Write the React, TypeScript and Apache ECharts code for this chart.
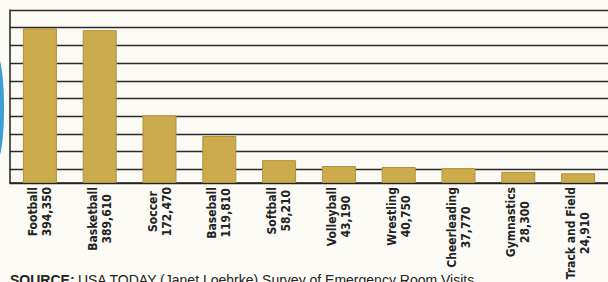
import React, { useEffect, useRef } from "react";
import * as echarts from "echarts";

const sports = [
  "Football",
  "Basketball",
  "Soccer",
  "Baseball",
  "Softball",
  "Volleyball",
  "Wrestling",
  "Cheerleading",
  "Gymnastics",
  "Track and Field",
];
const visits = [394350, 389610, 172470, 119810, 58210, 43190, 40750, 37770, 28300, 24910];
const sourceLabel = "SOURCE:";
const sourceText = "USA TODAY (Janet Loehrke) Survey of Emergency Room Visits";

const fmt = (v: number) => v.toLocaleString("en-US");

export default function App() {
  const ref = useRef<HTMLDivElement>(null);
  useEffect(() => {
    if (!ref.current) return;
    const chart = echarts.init(ref.current, null, { renderer: "svg" });
    const labelFont = "'DejaVu Sans Condensed', 'Liberation Sans', sans-serif";
    chart.setOption({
      animation: false,
      backgroundColor: "#fbfaf5",
      grid: {
        left: 10,
        right: 0,
        top: 10,
        bottom: 99,
        containLabel: false,
        outerBoundsMode: "none",
      },
      xAxis: {
        type: "category",
        data: sports,
        axisTick: { show: false },
        axisLine: { show: true, lineStyle: { color: "#222", width: 1.5 } },
        axisLabel: {
          interval: 0,
          rotate: 90,
          margin: 4,
          formatter: (name: string, idx: number) => `{a|${name}}\n{a|${fmt(visits[idx])}}`,
          rich: {
            a: {
              align: "center",
              fontFamily: labelFont,
              fontSize: 12,
              fontWeight: "bold",
              lineHeight: 14,
              color: "#222",
            },
          },
        },
      },
      yAxis: [
        {
          type: "value",
          min: 0,
          max: 441000,
          splitLine: { show: false },
          axisLabel: { show: false },
          axisTick: { show: false },
          axisLine: { show: true, lineStyle: { color: "#222", width: 1.5 } },
        },
        {
          type: "value",
          inverse: true,
          min: 0,
          max: 9.77,
          interval: 1,
          position: "left",
          axisLabel: { show: false },
          axisTick: { show: false },
          axisLine: { show: false },
          splitLine: { show: true, lineStyle: { color: "#2b2b2b", width: 1.4 } },
        },
      ],
      series: [
        {
          type: "bar",
          data: visits,
          yAxisIndex: 0,
          barWidth: 34,
          itemStyle: { color: "#cbab4c", borderColor: "#b09238", borderWidth: 1 },
        },
      ],
      graphic: [
        {
          type: "ellipse",
          shape: { cx: -3, cy: 108, rx: 7, ry: 52 },
          style: { fill: "#3b9fd6" },
        },
        {
          type: "text",
          left: 10,
          top: 273,
          style: {
            text: `{b|${sourceLabel}} {r|${sourceText}}`,
            rich: {
              b: {
                fontFamily: "'Liberation Sans', Arial, sans-serif",
                fontWeight: "bold",
                fontSize: 14,
                fill: "#222",
              },
              r: {
                fontFamily: "'Liberation Sans', Arial, sans-serif",
                fontSize: 14,
                fill: "#222",
              },
            },
          },
        },
      ],
    });
    return () => chart.dispose();
  }, []);
  return (
    <div
      ref={ref}
      style={{ position: "fixed", left: 0, top: 0, width: 608, height: 282 }}
    />
  );
}
